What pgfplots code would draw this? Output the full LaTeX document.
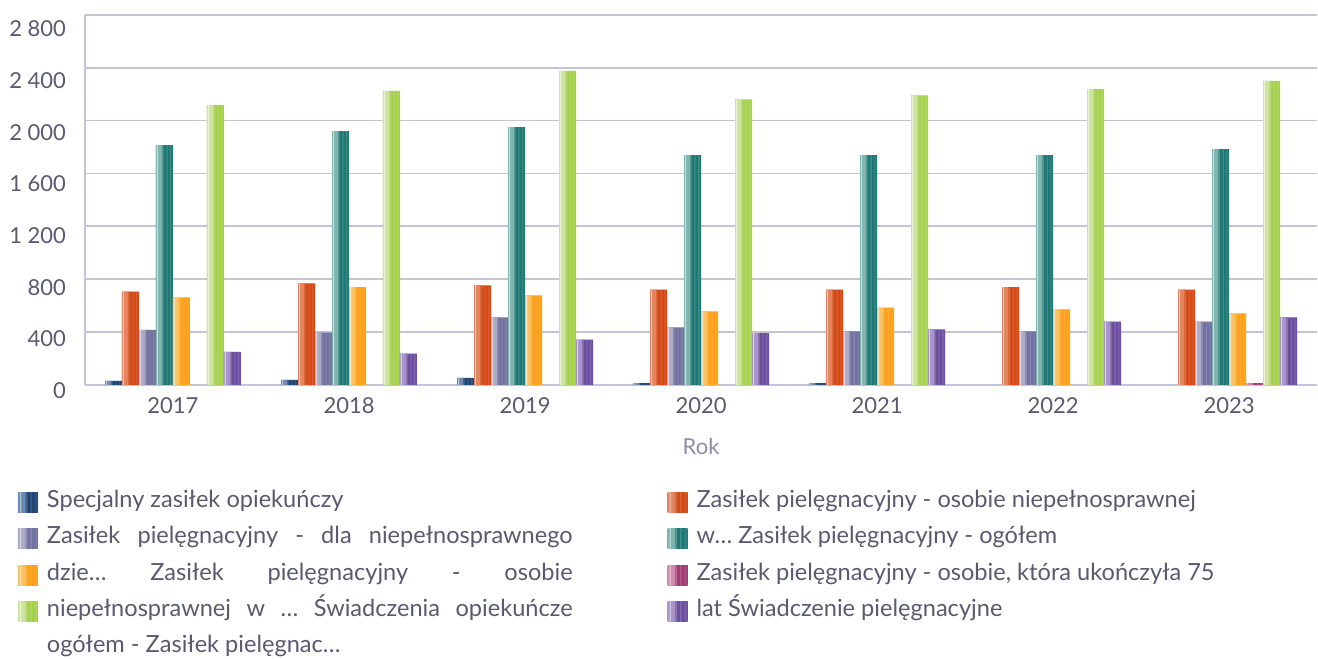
\documentclass[border=0pt]{standalone}
\usepackage{pgfplots}
\pgfplotsset{compat=1.18}
\usepackage{pgfplotstable}
\usepackage{fontspec}
\setmainfont{Lato}

\definecolor{tickgray}{HTML}{595970}
\definecolor{labgray}{HTML}{8C8CAA}
\definecolor{gridc}{HTML}{C4C4D6}

\definecolor{navyL}{HTML}{6A8CB4}\definecolor{navyD}{HTML}{1F4472}
\definecolor{redL}{HTML}{E6845F}\definecolor{redD}{HTML}{D14A18}
\definecolor{lavL}{HTML}{ABABCA}\definecolor{lavD}{HTML}{7272A0}
\definecolor{tealL}{HTML}{7FB4B0}\definecolor{tealD}{HTML}{1F7873}
\definecolor{oraL}{HTML}{FFC260}\definecolor{oraD}{HTML}{FF9F1A}
\definecolor{magL}{HTML}{D08AAC}\definecolor{magD}{HTML}{A03C70}
\definecolor{grnL}{HTML}{CDE59C}\definecolor{grnD}{HTML}{A6D04E}
\definecolor{purL}{HTML}{A896C8}\definecolor{purD}{HTML}{6C4E9E}

% data, one table per series (x = 0..6 for 2017..2023)
\pgfplotstableread{
x y
0 30
1 38
2 53
3 13
4 13
}\tNavy
\pgfplotstableread{
x y
0 706
1 767
2 752
3 721
4 721
5 739
6 721
}\tRed
\pgfplotstableread{
x y
0 416
1 394
2 510
3 434
4 404
5 404
6 479
}\tLav
\pgfplotstableread{
x y
0 1814
1 1920
2 1950
3 1738
4 1738
5 1738
6 1784
}\tTeal
\pgfplotstableread{
x y
0 661
1 739
2 676
3 555
4 585
5 570
6 540
}\tOra
\pgfplotstableread{
x y
6 13
}\tMag
\pgfplotstableread{
x y
0 2117
1 2225
2 2376
3 2162
4 2192
5 2238
6 2301
}\tGrn
\pgfplotstableread{
x y
0 250
1 235
2 341
3 391
4 419
5 479
6 510
}\tPur

% striped shading for legend squares
\newcommand\defstripes[3]{%
  \colorlet{#1@a}{#2!45!white}\colorlet{#1@m}{#2!50!#3}%
  \pgfdeclarehorizontalshading{#1}{100bp}{%
    color(0bp)=(#2); color(28bp)=(#2);
    color(28.5bp)=(#1@a); color(31bp)=(#1@a); color(31.5bp)=(#2);
    color(42bp)=(#2); color(42.5bp)=(#1@m); color(47bp)=(#1@m);
    color(47.5bp)=(#3); color(55.5bp)=(#3);
    color(56bp)=(#1@m); color(58bp)=(#1@m); color(58.5bp)=(#3);
    color(67bp)=(#3); color(67.5bp)=(#1@m); color(69.5bp)=(#1@m);
    color(70bp)=(#3); color(100bp)=(#3)}}

% one series: dark bar plus lighter stripes laid over it
% #1 table, #2 light, #3 dark, #4 bar shift (pt), #5 shading, #6 legend text
\newcommand\stripeplot[6]{%
  \defstripes{#5}{#2}{#3}%
  \addplot[ybar, draw=none, fill=#3, bar shift=#4pt,
    legend image code/.code={\shade[shading=#5] (0pt,-5pt) rectangle (10pt,5pt);}]
    table {#1};
  \addlegendentry{#6}
  \addplot[forget plot, ybar, draw=none, fill=#2, bar width=3pt, bar shift={#4pt-2.75pt}] table {#1};
  \addplot[forget plot, ybar, draw=none, fill=#2!45!white, bar width=0.5pt, bar shift={#4pt-3.5pt}] table {#1};
  \addplot[forget plot, ybar, draw=none, fill=#2!50!#3, bar width=0.8pt, bar shift={#4pt-0.85pt}] table {#1};
  \addplot[forget plot, ybar, draw=none, fill=#2!50!#3, bar width=0.4pt, bar shift={#4pt+1.25pt}] table {#1};
  \addplot[forget plot, ybar, draw=none, fill=#2!50!#3, bar width=0.4pt, bar shift={#4pt+3.15pt}] table {#1};
}

\newcommand\lft[1]{\makebox[263pt][s]{#1}}

\begin{document}
\begin{tikzpicture}
\begin{axis}[
  scale only axis,
  width=616.5pt, height=185pt,
  bar width=8.5pt,
  xmin=-0.5, xmax=6.5, ymin=0, ymax=2800,
  xtick={0,...,6}, xticklabels={2017,2018,2019,2020,2021,2022,2023},
  ytick={0,400,...,2800},
  axis lines*=left,
  axis line style={draw=gridc, line width=0.8pt, -},
  ymajorgrids, grid style={draw=gridc, line width=0.8pt},
  major tick length=0pt,
  /pgf/number format/assume math mode=true,
  /pgf/number format/1000 sep={\ },
  tick label style={font=\fontsize{11}{13}\selectfont, text=tickgray},
  yticklabel style={xshift=-6pt, yshift={-3pt-4pt*\ticknum/7}},
  xticklabel style={yshift=-3pt},
  xlabel={Rok},
  xlabel style={font=\fontsize{11}{13}\selectfont, text=labgray,
    at={(axis description cs:0.5,0)}, anchor=center, yshift=-31pt},
  legend columns=2,
  legend cell align=left,
  legend style={draw=none, fill=none, inner sep=0pt, outer sep=0pt,
    at={(axis description cs:0,0)}, anchor=north west,
    xshift=-33.5pt, yshift=-53.5pt, row sep=7.1pt,
    nodes={inner sep=0pt, text height=8pt, text depth=3pt,
      font=\fontsize{11.8}{14}\selectfont, text=tickgray},
    /tikz/every odd column/.append style={column sep=4.5pt},
    /tikz/every even column/.append style={column sep=47.5pt}},
]
\stripeplot{\tNavy}{navyL}{navyD}{-29.75}{shNavy}{\lft{Specjalny zasiłek opiekuńczy\hfill}}
\stripeplot{\tRed}{redL}{redD}{-21.25}{shRed}{Zasiłek pielęgnacyjny - osobie niepełnosprawnej}
\stripeplot{\tLav}{lavL}{lavD}{-12.75}{shLav}{\lft{Zasiłek pielęgnacyjny - dla niepełnosprawnego}}
\stripeplot{\tTeal}{tealL}{tealD}{-4.25}{shTeal}{w… Zasiłek pielęgnacyjny - ogółem}
\stripeplot{\tOra}{oraL}{oraD}{4.25}{shOra}{\lft{dzie… Zasiłek pielęgnacyjny - osobie}}
\stripeplot{\tMag}{magL}{magD}{12.75}{shMag}{Zasiłek pielęgnacyjny - osobie, która ukończyła 75}
\stripeplot{\tGrn}{grnL}{grnD}{21.25}{shGrn}{\lft{niepełnosprawnej w … Świadczenia opiekuńcze}}
\stripeplot{\tPur}{purL}{purD}{29.75}{shPur}{lat Świadczenie pielęgnacyjne}
\addlegendimage{empty legend}
\addlegendentry{ogółem - Zasiłek pielęgnac…}
\end{axis}
\path ([xshift=-42.5pt,yshift=7.5pt]current axis.north west);
\end{tikzpicture}
\end{document}
